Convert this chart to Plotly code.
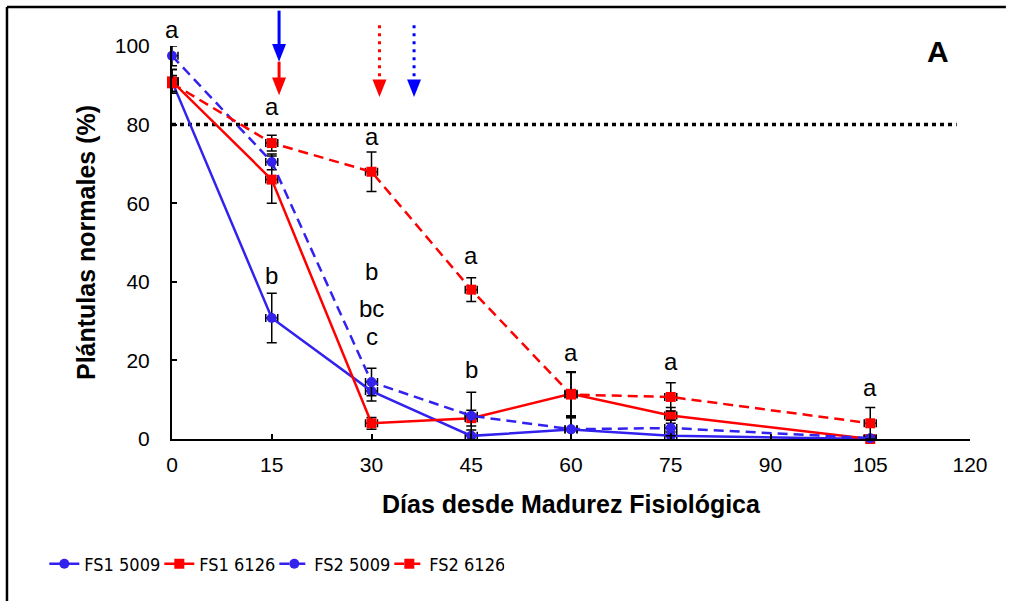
import plotly.graph_objects as go

# Days after physiological maturity
days = [0, 15, 30, 45, 60, 75, 105]

# Normal seedlings (%) and standard errors per lot
fs1_5009 = [91, 30.8, 12.2, 0.8, 2.4, 0.8, 0]
fs1_5009_err = [3, 6.3, 2.5, 1.5, 3, 1, 0.5]
fs1_6126 = [91, 66, 4, 5.3, 11.5, 6, 0]
fs1_6126_err = [3, 6, 1.5, 2, 5.6, 2, 0.5]
fs2_5009 = [97.5, 70.5, 14.5, 5.9, 2.5, 2.8, 0.2]
fs2_5009_err = [2.5, 2, 3.5, 6, 3, 2, 0.5]
fs2_6126 = [90.5, 75.3, 68, 38, 11.3, 10.7, 4]
fs2_6126_err = [2, 2, 5, 3, 5.6, 3.6, 4]
x_err = 0.9

# Significance letters (day, y position, text)
letter_days = [0, 15, 15, 30, 30, 30, 30, 45, 45, 60, 75, 105]
letter_y = [104.1, 84.5, 41.7, 77.0, 42.5, 33.3, 26.0, 46.8, 17.6, 22.1, 19.6, 13.2]
letter_txt = ["a", "a", "b", "a", "b", "bc", "c", "a", "b", "a", "a", "a"]

# Reference threshold (%)
threshold = 80

# Arrows marking harvest points: (day, top, bottom, colour, dotted)
arrows = [
    (16.1, 109.0, 96.0, "#0000FF", False),
    (16.1, 96.0, 87.5, "#FF0000", False),
    (31.2, 105.3, 87.0, "#FF0000", True),
    (36.4, 105.3, 87.0, "#0000FF", True),
]

x_ticks = [0, 15, 30, 45, 60, 75, 90, 105, 120]
y_ticks = [0, 20, 40, 60, 80, 100]

BLUE = "#3322EE"
RED = "#FF0000"
FONT = "Liberation Sans, Arial, sans-serif"
NARROW = "Liberation Sans Narrow, DejaVu Sans Condensed, Liberation Sans, Arial, sans-serif"

fig = go.Figure()

series = [
    ("FS1 5009", fs1_5009, fs1_5009_err, BLUE, "solid", "circle", 10),
    ("FS1 6126", fs1_6126, fs1_6126_err, RED, "solid", "square", 10),
    ("FS2 5009", fs2_5009, fs2_5009_err, BLUE, "10px,6px", "circle", 10),
    ("FS2 6126", fs2_6126, fs2_6126_err, RED, "10px,6px", "square", 10),
]
for name, vals, errs, col, dash, sym, sz in series:
    fig.add_trace(go.Scatter(
        x=days, y=vals, name=name, mode="lines+markers",
        line=dict(color=col, width=2.5, dash=dash),
        marker=dict(color=col, symbol=sym, size=sz),
        error_y=dict(type="data", array=errs, visible=True, color="black",
                     thickness=1.5, width=5),
        error_x=dict(type="constant", value=x_err, visible=True, color="black",
                     thickness=1.5, width=4),
        cliponaxis=False,
    ))

# Threshold line
fig.add_shape(type="line", xref="x", yref="y", x0=0, x1=118, y0=threshold, y1=threshold,
              line=dict(color="black", width=3.5, dash="4px,4px"), layer="below")

# Harvest arrows (shaft + triangular head), drawn above the plotting area
head_h = 4.5   # in y units
head_w = 1.05  # half width in x units
for xd, ytop, ybot, col, dotted in arrows:
    fig.add_shape(type="line", xref="x", yref="paper", x0=xd, x1=xd,
                  y0=ytop / 100, y1=(ybot + head_h * 0.6) / 100,
                  line=dict(color=col, width=3, dash="3px,5px" if dotted else "solid"))
    path = (f"M {xd - head_w} {(ybot + head_h) / 100} L {xd + head_w} {(ybot + head_h) / 100} "
            f"L {xd} {ybot / 100} Z")
    fig.add_shape(type="path", xref="x", yref="paper", path=path,
                  fillcolor=col, line=dict(color=col, width=0))

# Letters are placed on the paper scale (0-100 % -> 0-1) so the ones above 100 % stay visible
for xd, yv, t in zip(letter_days, letter_y, letter_txt):
    fig.add_annotation(x=xd, y=yv / 100, xref="x", yref="paper", text=t, showarrow=False,
                       xanchor="center", yanchor="middle",
                       font=dict(family=FONT, size=24, color="black"))

fig.add_annotation(xref="paper", yref="paper", x=0.96, y=0.985, text="<b>A</b>",
                   showarrow=False, xanchor="center", yanchor="middle",
                   font=dict(family=FONT, size=30, color="black"))

# Outer chart frame (top and left edges)
fig.add_shape(type="line", xref="paper", yref="paper", x0=-0.2068, x1=1.045, y0=1.0992, y1=1.0992,
              line=dict(color="black", width=2.5))
fig.add_shape(type="line", xref="paper", yref="paper", x0=-0.2068, x1=-0.2068, y0=-0.42, y1=1.0992,
              line=dict(color="black", width=2.5))

fig.update_layout(
    width=1009, height=601,
    margin=dict(l=172, r=39, t=46, b=162),
    paper_bgcolor="white", plot_bgcolor="white",
    font=dict(family=FONT, size=21, color="black"),
    showlegend=True,
    legend=dict(orientation="h", x=-0.16, y=-0.318, xanchor="left", yanchor="middle",
                font=dict(family=NARROW, size=18, color="black"),
                entrywidth=70, entrywidthmode="pixels", traceorder="normal",
                bgcolor="rgba(0,0,0,0)"),
)
fig.update_xaxes(range=[0, 120], tickvals=x_ticks, ticks="inside", ticklen=5, tickwidth=1.5,
                 tickcolor="black", showline=True, linecolor="black", linewidth=1.5,
                 showgrid=False, zeroline=False, ticklabelstandoff=6,
                 title=dict(text="<b>Días desde Madurez Fisiológica</b>",
                            font=dict(family=FONT, size=25), standoff=21))
fig.update_yaxes(range=[0, 100], tickvals=y_ticks, ticks="inside", ticklen=5, tickwidth=1.5,
                 tickcolor="black", showline=True, linecolor="black", linewidth=2,
                 showgrid=False, zeroline=False, ticklabelstandoff=16,
                 title=dict(text="<b>Plántulas normales (%)</b>",
                            font=dict(family=FONT, size=25), standoff=12))

fig.write_html("out.html")
